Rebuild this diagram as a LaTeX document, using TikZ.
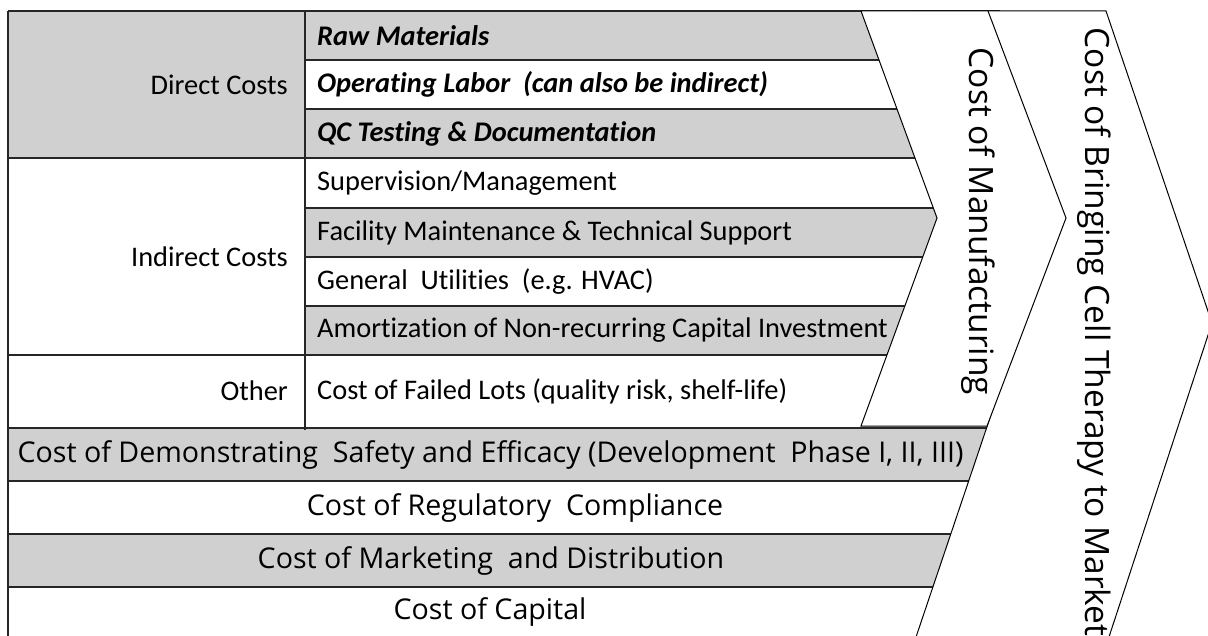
\documentclass[tikz,border=0pt]{standalone}
\usepackage{fontspec}
\setmainfont{Carlito}[Ligatures=NoCommon]
\newfontfamily\bigfont{Open Sans}[Ligatures=NoCommon]
\definecolor{cellgray}{RGB}{208,208,208}
\begin{document}
\begin{tikzpicture}[x=1pt,y=-1pt,
  rowline/.style={line width=1.3pt,draw=black!85},
  chev/.style={fill=white,draw=black,line width=1pt,line join=miter},
  small/.style={font=\fontsize{28.4}{30}\selectfont,inner sep=0pt},
  smallbi/.style={font=\fontsize{28.4}{30}\selectfont\bfseries\itshape,inner sep=0pt},
  big/.style={font=\bigfont\fontsize{28.6}{31}\selectfont,inner sep=0pt},
  bigrot/.style={font=\bigfont\fontsize{33.5}{35}\selectfont,inner sep=0pt,rotate=-90}]
\useasboundingbox (0,0) rectangle (1208,636);
\fill[white] (0,0) rectangle (1208,636);
% gray fills
\fill[cellgray] (8,11) rectangle (1000,60);
\fill[cellgray] (8,60) rectangle (305,158);
\fill[cellgray] (305,109) rectangle (1000,158);
\fill[cellgray] (305,208) rectangle (1000,257);
\fill[cellgray] (305,306) rectangle (1000,355);
\fill[cellgray] (8,428) rectangle (1040,481);
\fill[cellgray] (8,534) rectangle (1040,587);
% horizontal lines
\draw[rowline] (8,11) -- (1000,11);
\draw[rowline] (305,60) -- (1000,60);
\draw[rowline] (305,109) -- (1000,109);
\draw[rowline] (8,158) -- (1000,158);
\draw[rowline] (305,208) -- (1000,208);
\draw[rowline] (305,257) -- (1000,257);
\draw[rowline] (305,306) -- (1000,306);
\draw[rowline] (8,355) -- (1000,355);
\draw[rowline] (8,428) -- (1040,428);
\draw[rowline] (8,481) -- (1040,481);
\draw[rowline] (8,534) -- (1040,534);
\draw[rowline] (8,587) -- (1040,587);
\draw[rowline] (8,637) -- (1040,637);
% vertical lines
\draw[rowline] (8,11) -- (8,640);
\draw[rowline] (305,11) -- (305,430);
% chevrons
\draw[chev] (915,11) -- (1106,11) -- (1212,323) -- (1108,640) -- (915,640) -- (1022,323) -- cycle;
\draw[chev] (861,11) -- (988,11) -- (1066,218) -- (987,426) -- (861,426) -- (937,218) -- cycle;
% left column labels
\node[small,anchor=east] (direct) at (288,85) {Direct Costs};
\node[small,anchor=east] (indirect) at (288,257) {Indirect Costs};
\node[small,anchor=east] (other) at (288,391) {Other};
% right column labels
\node[smallbi,anchor=west] (raw) at (317,35.5) {Raw Materials};
\node[smallbi,anchor=west] (labor) at (317,84.5) {Operating Labor\ \ (can also be indirect)};
\node[smallbi,anchor=west] (qc) at (317,133.5) {QC Testing \& Documentation};
\node[small,anchor=west] (sup) at (317,183) {Supervision/Management};
\node[small,anchor=west] (fac) at (317,232.5) {Facility Maintenance \& Technical Support};
\node[small,anchor=west] (util) at (317,281.5) {General\ \ Utilities\ \ (e.g. HVAC)};
\node[small,anchor=west] (amort) at (317,330.5) {Amortization of Non-recurring Capital Investment};
\node[small,anchor=west] (failed) at (317,391) {Cost of Failed Lots (quality risk, shelf-life)};
% full width rows
\node[big] (demo) at (490.5,455) {Cost of Demonstrating\ \ Safety and Efficacy (Development\ \ Phase I, II, III)};
\node[big] (reg) at (515,508) {Cost of Regulatory\ \ Compliance};
\node[big] (mkt) at (491,561) {Cost of Marketing\ \ and Distribution};
\node[big] (cap) at (490,612) {Cost of Capital};
% chevron labels
\node[bigrot] (manu) at (978,221.5) {Cost of Manufacturing};
\node[bigrot] (market) at (1094,332) {Cost of Bringing Cell Therapy to Market};
\end{tikzpicture}
\end{document}
